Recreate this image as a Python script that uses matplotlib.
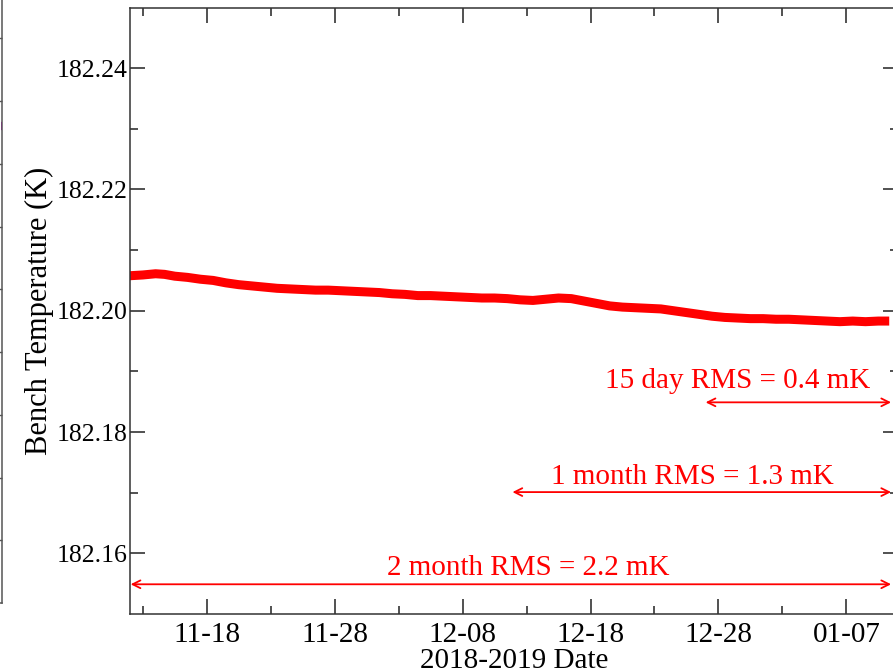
import matplotlib
matplotlib.use("Agg")
import matplotlib.pyplot as plt
import matplotlib.dates as mdates
import pandas as pd

plt.rcParams['font.family'] = ['Liberation Serif', 'DejaVu Serif']

# --- data ---
start = pd.Timestamp("2018-11-12")
day = [0.2, 1.0, 2.0, 2.7, 3.5, 4.5, 5.5, 6.5, 7.5, 8.5, 9.5, 10.5, 11.5, 12.5,
       13.5, 14.5, 15.5, 16.5, 17.5, 18.5, 19.5, 20.5, 21.5, 22.5, 23.5, 24.5,
       25.5, 26.5, 27.5, 28.5, 29.5, 30.5, 31.5, 32.5, 33.5, 34.5, 35.5, 36.5,
       37.5, 38.5, 39.5, 40.5, 41.5, 42.5, 43.5, 44.5, 45.5, 46.5, 47.5, 48.5,
       49.5, 50.5, 51.5, 52.5, 53.5, 54.5, 55.5, 56.5, 57.5, 58.5, 59.0]
temp = [182.2058, 182.2059, 182.2061, 182.2060, 182.2057, 182.2055, 182.2052,
        182.2050, 182.2046, 182.2043, 182.2041, 182.2039, 182.2037, 182.2036,
        182.2035, 182.2034, 182.2034, 182.2033, 182.2032, 182.2031, 182.2030,
        182.2028, 182.2027, 182.2025, 182.2025, 182.2024, 182.2023, 182.2022,
        182.2021, 182.2021, 182.2020, 182.2018, 182.2017, 182.2019, 182.2021,
        182.2020, 182.2016, 182.2012, 182.2008, 182.2006, 182.2005, 182.2004,
        182.2003, 182.2000, 182.1997, 182.1994, 182.1991, 182.1989, 182.1988,
        182.1987, 182.1987, 182.1986, 182.1986, 182.1985, 182.1984, 182.1983,
        182.1982, 182.1983, 182.1982, 182.1983, 182.1983]

# RMS arrows: label, start/end day, arrow level, text day, text level
rms_labels = ["15 day RMS = 0.4 mK", "1 month RMS = 1.3 mK", "2 month RMS = 2.2 mK"]
rms_start = [45.0, 29.9, 0.05]
rms_end = [59.5, 59.5, 59.5]
rms_level = [182.1849, 182.1701, 182.1549]
rms_text_day = [47.5, 44.0, 31.1]
rms_text_level = [182.1884, 182.1726, 182.1576]

major_ticks = ["2018-11-18", "2018-11-28", "2018-12-08", "2018-12-18",
               "2018-12-28", "2019-01-07"]
minor_ticks = ["2018-11-13", "2018-11-23", "2018-12-03", "2018-12-13",
               "2018-12-23", "2019-01-02"]

t = start + pd.to_timedelta(day, unit="D")

fig = plt.figure(figsize=(8.93, 6.72), dpi=100)

# neighbouring panel edge (cropped at the left of the original)
nb = fig.add_axes([-0.5, 69 / 672, 0.5 + 2 / 893, 603 / 672])
nb.set_xlim(0, 1)
nb.set_ylim(0, 603 / 62.75)
nb.plot([0.997, 1.0], [7.6, 7.6], color="#cc00cc", lw=6, solid_capstyle="butt")
for s in ["left", "top"]:
    nb.spines[s].set_visible(False)
for s in ["right", "bottom"]:
    nb.spines[s].set_color("#555555")
    nb.spines[s].set_linewidth(1.1)
nb.yaxis.tick_right()
nb.set_yticks(range(1, 10))
nb.tick_params(axis="y", direction="in", length=4, width=1, color="#555555",
               labelright=False)
nb.set_xticks([])

# main panel (right edge runs past the picture, as in the original)
ax = fig.add_axes([130 / 893, 58 / 672, 767.5 / 893, 606.5 / 672])
ax.plot(t, temp, color="red", lw=6.5, solid_joinstyle="round")

for lab, d0, d1, lev, td, tl in zip(rms_labels, rms_start, rms_end, rms_level,
                                    rms_text_day, rms_text_level):
    x0 = start + pd.Timedelta(days=d0)
    x1 = start + pd.Timedelta(days=d1)
    ax.annotate("", xy=(x1, lev), xytext=(x0, lev),
                arrowprops=dict(arrowstyle="<->", color="red", lw=1.3,
                                shrinkA=0, shrinkB=0, mutation_scale=14))
    ax.text(start + pd.Timedelta(days=td), tl, lab, color="red", fontsize=21,
            ha="center", va="center")

ax.set_xlim(start, start + pd.Timedelta(days=60))
ax.set_ylim(182.15, 182.25)
ax.set_xticks(pd.to_datetime(major_ticks))
ax.set_xticks(pd.to_datetime(minor_ticks), minor=True)
ax.xaxis.set_major_formatter(mdates.DateFormatter("%m-%d"))
ax.set_yticks([182.16, 182.18, 182.20, 182.22, 182.24])
ax.set_yticks([182.17, 182.19, 182.21, 182.23], minor=True)
ax.yaxis.set_major_formatter(plt.FormatStrFormatter("%.2f"))

ax.tick_params(which="both", direction="in", top=True, right=True,
               color="#222222", width=1.1)
ax.tick_params(axis="x", labelsize=21, pad=6)
ax.tick_params(axis="y", labelsize=18.5, pad=2)
ax.tick_params(which="major", length=10.8)
ax.tick_params(which="minor", length=5.8)
for s in ax.spines.values():
    s.set_linewidth(1.1)
    s.set_color("#333333")

ax.set_xlabel("2018-2019 Date", fontsize=21, labelpad=0)
ax.set_ylabel("Bench Temperature (K)", fontsize=22, labelpad=2)

fig.savefig("out.png", dpi=100)
